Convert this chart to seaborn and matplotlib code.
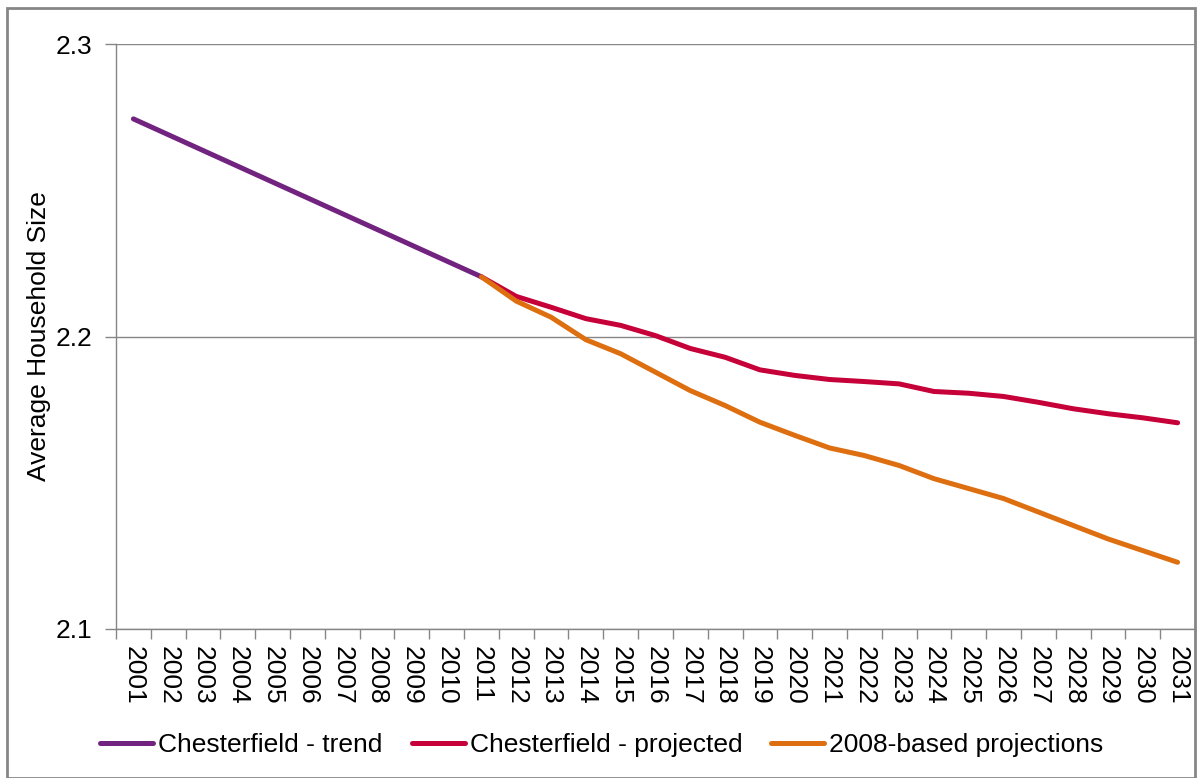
import matplotlib
matplotlib.use("Agg")
import matplotlib.pyplot as plt
from matplotlib.patches import Rectangle
from matplotlib.ticker import FixedLocator, FormatStrFormatter
import numpy as np
import pandas as pd
import seaborn as sns

# Average household size, Chesterfield
trend_years = list(range(2001, 2012))
trend_values = [2.2744, 2.2690, 2.2636, 2.2582, 2.2528, 2.2474, 2.2420, 2.2366, 2.2312,
                2.2258, 2.2204]

proj_years = list(range(2011, 2032))
projected_values = [2.2204, 2.2137, 2.2100, 2.2061, 2.2038, 2.2003, 2.1959, 2.1929, 2.1886,
                    2.1867, 2.1853, 2.1846, 2.1838, 2.1812, 2.1806, 2.1795, 2.1775,
                    2.1753, 2.1736, 2.1722, 2.1705]
based2008_values = [2.2204, 2.2121, 2.2066, 2.1989, 2.1941, 2.1878, 2.1815, 2.1764, 2.1707,
                    2.1662, 2.1619, 2.1593, 2.1559, 2.1514, 2.1480, 2.1446, 2.1400,
                    2.1354, 2.1308, 2.1268, 2.1228]

series_names = ["Chesterfield - trend", "Chesterfield - projected", "2008-based projections"]
series_colors = ["#71237F", "#C60038", "#DD6F10"]
year_labels = [str(y) for y in range(2001, 2032)]
y_ticks = [2.1, 2.2, 2.3]

df = pd.concat([
    pd.DataFrame({"year": trend_years, "size": trend_values, "series": series_names[0]}),
    pd.DataFrame({"year": proj_years, "size": projected_values, "series": series_names[1]}),
    pd.DataFrame({"year": proj_years, "size": based2008_values, "series": series_names[2]}),
])

sns.set_theme(style="white")
plt.rcParams["font.family"] = ["Liberation Sans", "DejaVu Sans"]
plt.rcParams["text.color"] = "black"
plt.rcParams["xtick.color"] = "black"
plt.rcParams["ytick.color"] = "black"
plt.rcParams["axes.labelcolor"] = "black"

W, H = 1200, 778
fig = plt.figure(figsize=(W / 100, H / 100), dpi=100)
ax = fig.add_axes([116 / W, 1 - 629 / H, (1195 - 116) / W, (629 - 44) / H])

sns.lineplot(data=df, x="year", y="size", hue="series", hue_order=series_names,
             palette=series_colors, linewidth=3.6, ax=ax, sort=False,
             solid_capstyle="round")

grey = "#868686"
ax.set_xlim(2000.5, 2031.5)
ax.set_ylim(2.1, 2.3)
ax.yaxis.set_major_locator(FixedLocator(y_ticks))
ax.yaxis.set_major_formatter(FormatStrFormatter("%.1f"))
ax.grid(axis="y", color=grey, linewidth=1.0)
ax.set_axisbelow(True)

ax.set_xticks(range(2001, 2032))
ax.set_xticklabels(year_labels, rotation=270, fontsize=19, ha="center", va="top")
ax.set_xticks(np.arange(2000.5, 2032, 1.0), minor=True)
ax.tick_params(axis="x", which="major", length=0, pad=12, labelcolor="black")
ax.tick_params(axis="x", which="minor", length=7, width=1.0, color=grey, direction="out",
               bottom=True)
ax.tick_params(axis="y", which="major", length=8, width=1.0, color=grey, direction="out",
               left=True, labelsize=19, pad=9, labelcolor="black")

for side in ["top", "right"]:
    ax.spines[side].set_visible(False)
for side in ["left", "bottom"]:
    ax.spines[side].set_color(grey)
    ax.spines[side].set_linewidth(1.0)

ax.set_xlabel("")
ax.set_ylabel("Average Household Size", fontsize=19, labelpad=3, color="black")

handles, labels = ax.get_legend_handles_labels()
leg = ax.legend(handles, labels, loc="center", bbox_to_anchor=(602 / W, 1 - 745 / H),
                bbox_transform=fig.transFigure, ncol=3, frameon=False, fontsize=19,
                handlelength=2.0, handletextpad=0.2, columnspacing=1.1, borderaxespad=0)
for t in leg.get_texts():
    t.set_color("black")

# outer chart frame
fig.patches.append(Rectangle((7 / W, 0.5 / H), (1195 - 7) / W, (778 - 8.5) / H,
                             transform=fig.transFigure, fill=False, edgecolor=grey,
                             linewidth=2.0, zorder=10))

fig.savefig("out.png", dpi=100, facecolor="white")
